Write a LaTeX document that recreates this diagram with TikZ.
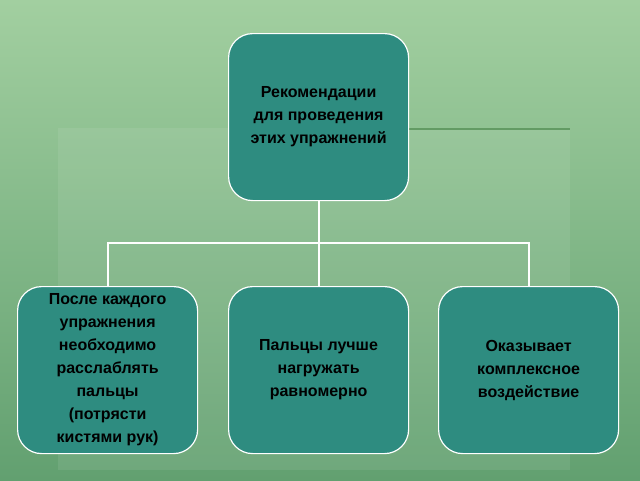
\documentclass[tikz,border=0pt]{standalone}
\usepackage{fontspec}
\setmainfont{Liberation Sans}
\begin{document}
\begin{tikzpicture}[x=1pt,y=-1pt,
  box/.style={draw=white,line width=1.2pt,fill=boxc,rounded corners=24pt,minimum width=180pt,minimum height=167pt,inner sep=0pt,anchor=north west,align=center,font=\bfseries\fontsize{16}{23}\selectfont,text=black},
  conn/.style={draw=white,line width=2pt}]
\definecolor{boxc}{HTML}{2E8C80}
\definecolor{bgtop}{HTML}{A2CFA0}
\definecolor{bgbot}{HTML}{62A070}
\useasboundingbox (0,0) rectangle (640,480);
\shade[top color=bgtop,bottom color=bgbot] (0,0) rectangle (640,480);
\fill[white,opacity=0.08] (58,128) rectangle (570,470);
\draw[green!30!black,opacity=0.35,line width=2pt] (408,129) -- (570,129);
\node[box] (top) at (228,33) {Рекомендации\\для проведения\\этих упражнений};
\node[box] (a) at (17,286) {После каждого\\упражнения\\необходимо\\расслаблять\\пальцы\\(потрясти\\кистями рук)};
\node[box] (b) at (228,286) {Пальцы лучше\\нагружать\\равномерно};
\node[box] (c) at (438,286) {Оказывает\\комплексное\\воздействие};
\coordinate (j) at (top.south |- 0,243);
\draw[conn] (top.south) -- (j);
\draw[conn] (j) -| (a.north);
\draw[conn] (j) -- (b.north);
\draw[conn] (j) -| (c.north);
\end{tikzpicture}
\end{document}
